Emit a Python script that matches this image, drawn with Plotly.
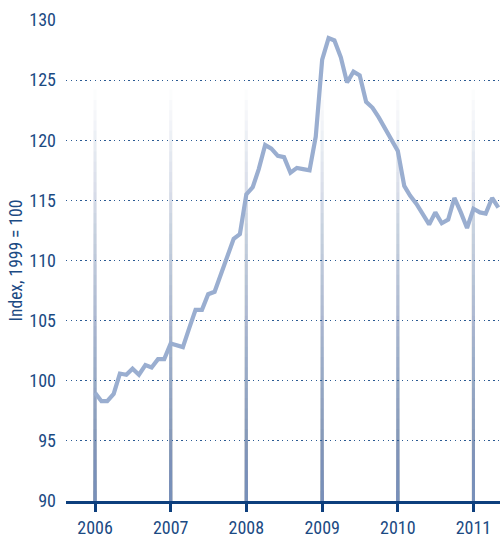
import plotly.graph_objects as go

# Monthly index values, 1999 = 100
months = [
    "2006-01", "2006-02", "2006-03", "2006-04", "2006-05", "2006-06",
    "2006-07", "2006-08", "2006-09", "2006-10", "2006-11", "2006-12",
    "2007-01", "2007-02", "2007-03", "2007-04", "2007-05", "2007-06",
    "2007-07", "2007-08", "2007-09", "2007-10", "2007-11", "2007-12",
    "2008-01", "2008-02", "2008-03", "2008-04", "2008-05", "2008-06",
    "2008-07", "2008-08", "2008-09", "2008-10", "2008-11", "2008-12",
    "2009-01", "2009-02", "2009-03", "2009-04", "2009-05", "2009-06",
    "2009-07", "2009-08", "2009-09", "2009-10", "2009-11", "2009-12",
    "2010-01", "2010-02", "2010-03", "2010-04", "2010-05", "2010-06",
    "2010-07", "2010-08", "2010-09", "2010-10", "2010-11", "2010-12",
    "2011-01", "2011-02", "2011-03", "2011-04", "2011-05",
]
index_values = [
    99.0, 98.3, 98.3, 98.9, 100.6, 100.5, 101.0, 100.5, 101.3, 101.1, 101.8, 101.8,
    103.1, 102.95, 102.8, 104.4, 105.9, 105.9, 107.2, 107.4, 108.9, 110.4, 111.8, 112.2,
    115.5, 116.1, 117.6, 119.6, 119.3, 118.7, 118.6, 117.3, 117.7, 117.6, 117.5, 120.3,
    126.7, 128.5, 128.3, 126.9, 124.8, 125.7, 125.4, 123.2, 122.7, 121.9, 121.0, 120.0,
    119.1, 116.2, 115.4, 114.7, 113.9, 113.0, 114.0, 113.1, 113.4, 115.2, 114.0, 112.7,
    114.3, 114.0, 113.9, 115.2, 114.4,
]

year_ticks = ["2006-01-01", "2007-01-01", "2008-01-01", "2009-01-01", "2010-01-01", "2011-01-01"]
year_labels = ["2006", "2007", "2008", "2009", "2010", "2011"]
y_ticks = [90, 95, 100, 105, 110, 115, 120, 125, 130]

NAVY = "#0d3f7d"
TEXT = "#1b4a83"
LINE = "#9aaed0"
RULE = "#7890b9"

FONT = "Liberation Sans Narrow, Roboto Condensed, Open Sans, sans-serif"

fig = go.Figure()
fig.add_trace(go.Scatter(
    x=months, y=index_values, mode="lines",
    line=dict(color=LINE, width=4.2),
    hoverinfo="x+y", showlegend=False,
))

# Year markers: vertical rules fading linearly towards the top. Each rule is a
# stack of translucent segments starting at the baseline; segment opacities are
# chosen so the combined opacity falls off linearly with height.
fade_top, fade_bottom = 124.2, 90.0
steps = 40
max_opacity = 0.95
target = [max_opacity * (1 - (j - 0.5) / steps) for j in range(1, steps + 1)]
trans = [1 - o for o in target] + [1.0]
seg_opacity = [1 - trans[j] / trans[j + 1] for j in range(steps)]

shapes = []
for tick in year_ticks:
    for j in range(steps):
        y1 = fade_bottom + (fade_top - fade_bottom) * (j + 1) / steps
        shapes.append(dict(
            type="line", xref="x", yref="y", x0=tick, x1=tick, y0=fade_bottom, y1=y1,
            line=dict(color=RULE, width=3), opacity=seg_opacity[j],
            layer="below",
        ))

fig.update_layout(
    width=500, height=538,
    margin=dict(l=66, r=0, t=20, b=35),
    paper_bgcolor="white", plot_bgcolor="white",
    font=dict(family=FONT, color=TEXT, size=18),
    shapes=shapes,
    xaxis=dict(
        type="date",
        range=["2005-08-14", "2011-05-09"],
        tickvals=year_ticks, ticktext=year_labels,
        showgrid=False, zeroline=False,
        showline=True, linecolor=NAVY, linewidth=3,
        ticks="outside", ticklen=8, tickwidth=3, tickcolor=NAVY,
        tickfont=dict(size=18, color=TEXT),
        fixedrange=True,
    ),
    yaxis=dict(
        range=[90, 130],
        tickvals=y_ticks,
        showgrid=True, gridcolor="#2a5a94", gridwidth=1.3, griddash="1.3px,3.5px",
        zeroline=False, showline=False, ticks="",
        ticklabelstandoff=9,
        tickfont=dict(size=18, color=TEXT),
        title=dict(text="Index, 1999 = 100", font=dict(size=17.5, color=TEXT), standoff=2),
        fixedrange=True,
    ),
)

fig.write_html("out.html")
